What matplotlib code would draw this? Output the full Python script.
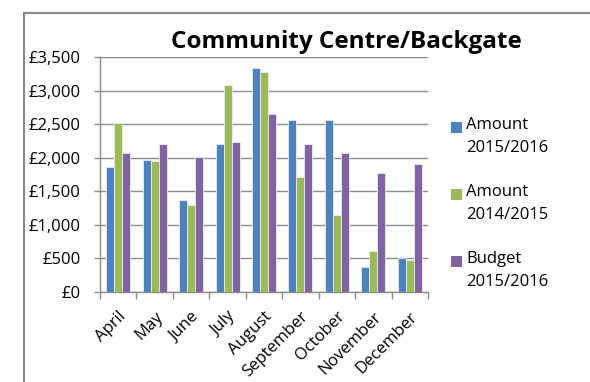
import matplotlib.pyplot as plt
import numpy as np
from matplotlib.patches import Rectangle
from matplotlib.ticker import FuncFormatter, MultipleLocator

plt.switch_backend("Agg")
plt.rcParams["font.family"] = ["Open Sans", "DejaVu Sans"]

months = ["April", "May", "June", "July", "August", "September",
          "October", "November", "December"]
amount_2015 = [1855, 1970, 1365, 2205, 3335, 2555, 2555, 365, 500]
amount_2014 = [2515, 1955, 1300, 3080, 3275, 1720, 1140, 615, 480]
budget_2015 = [2070, 2205, 2005, 2235, 2650, 2205, 2070, 1770, 1905]

series = [
    ("Amount\n2015/2016", amount_2015, "#4F81BD"),
    ("Amount\n2014/2015", amount_2014, "#9BBB59"),
    ("Budget\n2015/2016", budget_2015, "#8064A2"),
]

W, H = 590, 382
fig = plt.figure(figsize=(W / 100, H / 100), dpi=100)

# outer chart frame (only top and left edges fall inside the image)
fig.add_artist(Rectangle((24 / W, -0.1), 1.2, 1.1 - 13 / H,
                         transform=fig.transFigure, fill=False,
                         edgecolor="#888888", linewidth=1.5))

ax = fig.add_axes([100 / W, 1 - 292 / H, 328 / W, 235 / H])

x = np.arange(len(months))
bw = 0.22
for i, (label, vals, color) in enumerate(series):
    ax.bar(x + (i - 1) * bw, vals, bw, color=color, label=label,
           edgecolor="#E8ECF4", linewidth=0.6, zorder=3)

ax.set_xlim(-0.5, len(months) - 0.5)
ax.set_ylim(0, 3500)
ax.yaxis.set_major_locator(MultipleLocator(500))
ax.yaxis.set_major_formatter(FuncFormatter(lambda v, p: f"£{v:,.0f}"))
ax.grid(axis="y", color="#8C8C8C", linewidth=1.0, zorder=0)

grey = "#8C8C8C"
for side in ["top", "right"]:
    ax.spines[side].set_visible(False)
for side in ["left", "bottom"]:
    ax.spines[side].set_color(grey)
    ax.spines[side].set_linewidth(1.0)

# category boundary ticks on x, labels centred under each group
ax.set_xticks(np.arange(len(months) + 1) - 0.5)
ax.set_xticklabels([])
ax.tick_params(axis="x", which="major", length=5, color=grey, width=1)
ax.set_xticks(x, minor=True)
ax.set_xticklabels(months, minor=True, rotation=45, ha="right",
                   rotation_mode="anchor", fontsize=12)
ax.tick_params(axis="x", which="minor", length=0, pad=12)
ax.tick_params(axis="y", length=4, color=grey, width=1, labelsize=12, pad=10)

fig.text(346 / W, 1 - 42 / H, "Community Centre/Backgate", ha="center",
         va="center", fontsize=17.5, fontweight="bold")

# legend: square marker beside the first line of each two-line label
for i, (label, vals, color) in enumerate(series):
    top = 122 + i * 67
    fig.add_artist(Rectangle((451 / W, 1 - (top + 11) / H), 11 / W, 11 / H,
                             transform=fig.transFigure, facecolor=color,
                             edgecolor="none"))
    fig.text(466 / W, 1 - (top - 5) / H, label, ha="left", va="top",
             fontsize=12, linespacing=1.55)

fig.savefig("out.png", dpi=100)
